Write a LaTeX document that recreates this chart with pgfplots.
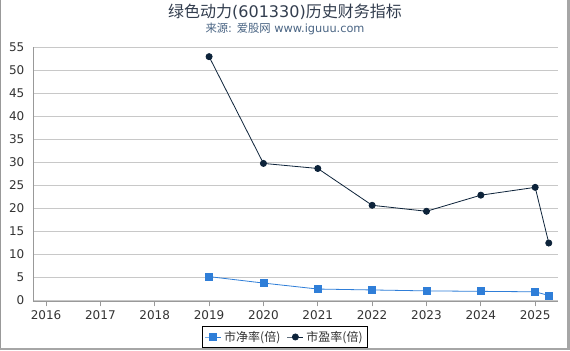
\documentclass[border=0pt]{standalone}
\usepackage{pgfplots}
\pgfplotsset{compat=1.18}
\usepackage{fontspec}
\setmainfont{DejaVu Sans}
\newfontfamily\cjk{Noto Sans CJK SC}
\definecolor{pbcol}{HTML}{2F7ED8}
\definecolor{pecol}{HTML}{0D233A}
\definecolor{titlecol}{HTML}{333E4F}
\definecolor{subcol}{HTML}{4A6584}
\definecolor{gridcol}{HTML}{C8C8C8}
\definecolor{labcol}{HTML}{333333}
\begin{document}
\begin{tikzpicture}[x=0.75pt,y=0.75pt]
\path[use as bounding box] (0,0) rectangle (570,350);
\fill[white] (0,0) rectangle (570,350);
\draw[gray!80, line width=0.75pt] (0.5,0)--(0.5,350);
\fill[gray!70] (567,0) rectangle (570,350);
\fill[gray!70] (0,0) rectangle (570,2);
\node[text=titlecol, font=\fontsize{12pt}{14pt}\selectfont] at (285,338) {{\cjk 绿色动力}(601330){\cjk 历史财务指标}};
\node[text=subcol, font=\fontsize{8.5pt}{11pt}\selectfont] at (285,321) {{\cjk 来源}: {\cjk 爱股网} www.iguuu.com};
\begin{axis}[
  at={(24.75pt,36.75pt)}, anchor=south west, scale only axis,
  width=393.75pt, height=190.5pt,
  xmin=2015.76, xmax=2025.42, ymin=-0.2, ymax=55,
  xtick={2016,2017,...,2025},
  ytick={0,5,...,55},
  /pgf/number format/assume math mode=true,
  /pgf/number format/1000 sep={},
  ymajorgrids, grid style={gridcol, line width=0.6pt},
  axis x line*=bottom, axis y line*=left,
  axis line style={-, gray!80, line width=0.6pt},
  xtick style={gray!80, line width=0.6pt}, ytick style={draw=none},
  tick align=outside, major tick length=4pt,
  tick label style={text=labcol, font=\fontsize{9pt}{10pt}\selectfont},
  yticklabel style={xshift=1pt},
  clip=false,
  legend columns=2,
  legend style={at={(0.48,-0.1417)}, anchor=center, draw=black, line width=0.6pt,
    font=\cjk\fontsize{9pt}{10pt}\selectfont, text=labcol, inner sep=1.5pt,
    /tikz/every even column/.append style={column sep=3pt}},
  legend image code/.code={\draw[mark repeat=2,mark phase=2,#1] plot coordinates {(0pt,0pt) (6pt,0pt) (12pt,0pt)};},
]
\addplot[pbcol, line width=0.6pt, mark=square*, mark size=2.6pt, mark options={fill=pbcol, draw=pbcol}]
 coordinates {(2019,5.1) (2020,3.7) (2021,2.4) (2022,2.2) (2023,2.0) (2024,1.9) (2025,1.8) (2025.25,1.0)};
\addlegendentry{市净率(倍)}
\addplot[pecol, line width=0.6pt, mark=*, mark size=2.3pt, mark options={fill=pecol, draw=pecol}]
 coordinates {(2019,52.9) (2020,29.7) (2021,28.6) (2022,20.6) (2023,19.3) (2024,22.8) (2025,24.5) (2025.25,12.4)};
\addlegendentry{市盈率(倍)}
\end{axis}
\end{tikzpicture}
\end{document}
